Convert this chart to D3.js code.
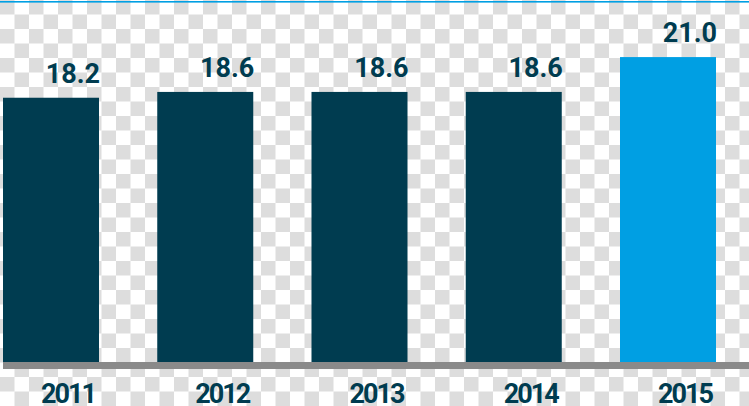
<!DOCTYPE html>
<html>
<head>
<meta charset="utf-8">
<script src="https://cdn.jsdelivr.net/npm/d3@7/dist/d3.min.js"></script>
<style>
  html, body { margin: 0; padding: 0; background: #fff; }
  svg { display: block; }
</style>
</head>
<body>
<script>
const years = ["2011", "2012", "2013", "2014", "2015"];
const values = [18.2, 18.6, 18.6, 18.6, 21.0];
const highlightYear = "2015";

const W = 749, H = 406;
const darkColor = "#003c50";
const lightColor = "#009fe3";

const svg = d3.select("body").append("svg").attr("width", W).attr("height", H);

// checkerboard (transparent background look)
const sq = 14.5;
const defs = svg.append("defs");
const pat = defs.append("pattern").attr("id", "checker")
  .attr("patternUnits", "userSpaceOnUse").attr("width", sq * 2).attr("height", sq * 2);
pat.append("rect").attr("width", sq * 2).attr("height", sq * 2).attr("fill", "#ffffff");
pat.append("rect").attr("x", 0).attr("y", 0).attr("width", sq).attr("height", sq).attr("fill", "#dddddd");
pat.append("rect").attr("x", sq).attr("y", sq).attr("width", sq).attr("height", sq).attr("fill", "#dddddd");
svg.append("rect").attr("width", W).attr("height", H).attr("fill", "url(#checker)");

// top blue rule
svg.append("rect").attr("x", 0).attr("y", 1).attr("width", W).attr("height", 1.6).attr("fill", lightColor);

const x = d3.scaleBand().domain(years).range([3, 716]).paddingInner(0.3776).paddingOuter(0).align(0);
const y = d3.scaleLinear().domain([0, 21]).range([362, 362 - 21 * 14.52]);

const data = years.map((yr, i) => ({ year: yr, value: values[i] }));

svg.append("g").selectAll("rect").data(data).join("rect")
  .attr("x", d => x(d.year))
  .attr("y", d => y(d.value))
  .attr("width", x.bandwidth())
  .attr("height", d => y(0) - y(d.value))
  .attr("fill", d => d.year === highlightYear ? lightColor : darkColor);

// baseline band
svg.append("rect").attr("x", 3).attr("y", y(0)).attr("width", W - 3).attr("height", 7).attr("fill", "#8a8a8a");

const font = "Roboto, 'DejaVu Sans', sans-serif";

svg.append("g").selectAll("text").data(data).join("text")
  .attr("x", d => x(d.year) + x.bandwidth() + 1)
  .attr("y", d => y(d.value) - 15)
  .attr("text-anchor", "end")
  .attr("font-family", font).attr("font-weight", 700).attr("font-size", 27)
  .attr("fill", darkColor)
  .text(d => d.value.toFixed(1));

// year axis labels
svg.append("g").selectAll("text").data(years).join("text")
  .attr("x", d => x(d) + x.bandwidth() - 4)
  .attr("y", 403)
  .attr("text-anchor", "end")
  .attr("letter-spacing", "-2px")
  .attr("font-family", font).attr("font-weight", 700).attr("font-size", 27)
  .attr("fill", darkColor)
  .text(d => d);
</script>
</body>
</html>
